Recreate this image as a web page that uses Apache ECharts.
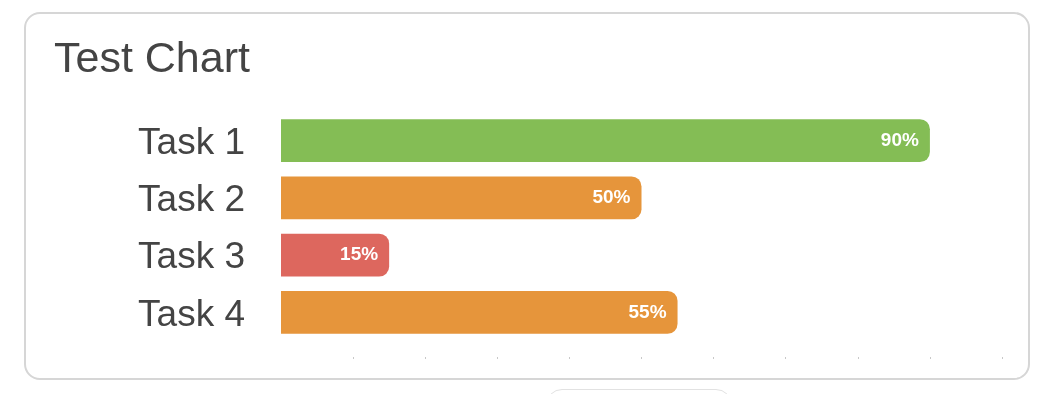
<!DOCTYPE html>
<html><head><meta charset="utf-8">
<script src="https://cdn.jsdelivr.net/npm/echarts@6/dist/echarts.min.js"></script>
<style>
html,body{margin:0;padding:0;background:#fff;width:1056px;height:394px;overflow:hidden;}
#card{position:absolute;left:24px;top:12px;width:1002px;height:364px;border:2px solid #d6d6d6;border-radius:16px;}
#btn{position:absolute;left:546px;top:389px;width:184px;height:30px;border:1px solid #e2e2e2;border-radius:16px;}
#chart{position:absolute;left:0;top:0;width:1056px;height:394px;}
</style></head>
<body>
<div id="card"></div>
<div id="btn"></div>
<div id="chart"></div>
<script>
const categories = ['Task 1', 'Task 2', 'Task 3', 'Task 4'];
const values = [90, 50, 15, 55];
const barColors = ['#84bd55', '#e6953b', '#dd675e', '#e6953b'];
const tickValues = [10, 20, 30, 40, 50, 60, 70, 80, 90, 100];

const chart = echarts.init(document.getElementById('chart'));
chart.setOption({
  animation: false,
  title: {
    text: 'Test Chart', left: 49, top: 34,
    textStyle: {fontFamily: 'Liberation Sans', fontSize: 43, fontWeight: 'normal', color: '#444'}
  },
  grid: {left: 281, right: 54, top: 112, bottom: 53, containLabel: false},
  xAxis: {
    type: 'value', min: 0, max: 100, interval: 10, offset: 16,
    splitLine: {show: false}, axisLine: {show: false},
    axisTick: {show: true, length: 2, customValues: tickValues, lineStyle: {color: '#c8c8c8'}},
    axisLabel: {show: false}
  },
  yAxis: {
    type: 'category', data: categories, inverse: true,
    axisLine: {show: false}, axisTick: {show: false}, splitLine: {show: false},
    axisLabel: {
      margin: 36, formatter: v => '{t|' + v + '}',
      rich: {t: {fontFamily: 'Liberation Sans', fontSize: 37, color: '#444', lineHeight: 37, padding: [6, 0, 0, 0]}}
    }
  },
  series: [{
    type: 'bar',
    barCategoryGap: '25%',
    data: values.map((v, i) => ({value: v, itemStyle: {color: barColors[i]}})),
    itemStyle: {borderRadius: [0, 10, 10, 0]},
    label: {
      show: true, position: 'insideRight', distance: 11,
      formatter: p => p.value + '%',
      fontFamily: 'Liberation Sans', fontSize: 19, fontWeight: 'bold', color: '#fff'
    }
  }]
});
</script>
</body></html>
